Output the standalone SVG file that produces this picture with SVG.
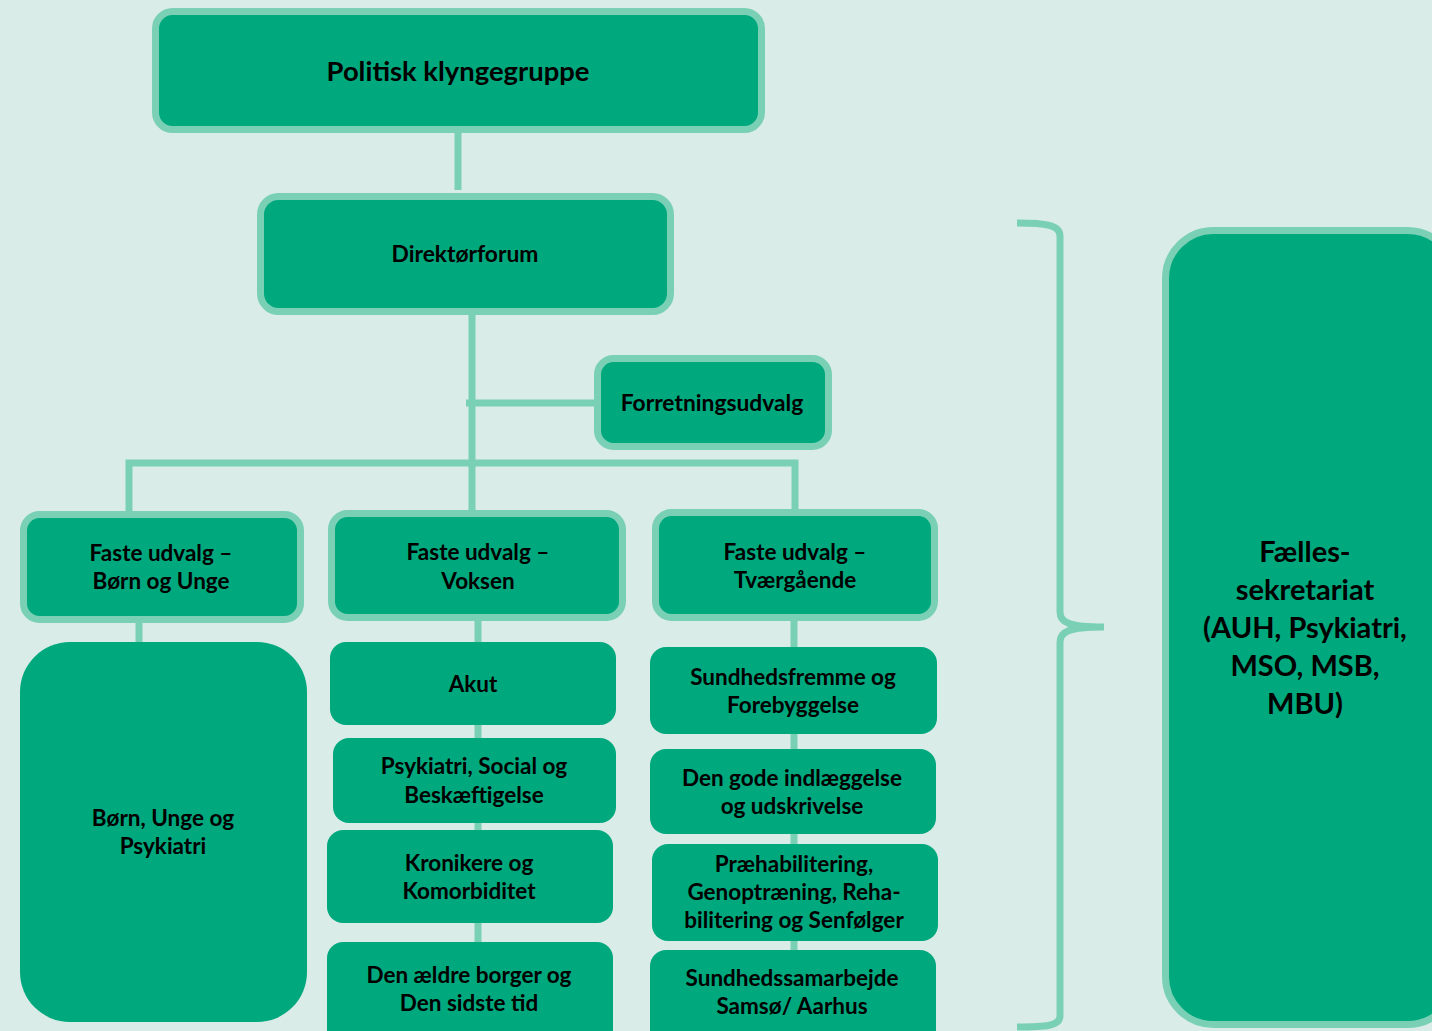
<svg xmlns="http://www.w3.org/2000/svg" width="1432" height="1031" viewBox="0 0 1432 1031">
<style>
.bg{fill:#daece7}
.bx{fill:#00a87e;stroke:#7ad0b5;stroke-width:7}
.pl{fill:#00a87e}
.cn{stroke:#7ad0b5;stroke-width:7;fill:none}
text{font-family:Lato,"Liberation Sans",sans-serif;font-weight:bold;fill:#000;text-anchor:middle;font-size:22.5px}
.t1{font-size:27.4px}
.t2{font-size:22.8px}
.t3{font-size:29px}
</style>
<rect class="bg" x="0" y="0" width="1432" height="1031"/>
<g id="connectors">
<line class="cn" x1="458" y1="130" x2="458" y2="190"/>
<line class="cn" x1="472" y1="312" x2="472" y2="515"/>
<line class="cn" x1="466" y1="403" x2="598" y2="403"/>
<polyline class="cn" points="129,515 129,463 795,463 795,514"/>
<line class="cn" x1="139" y1="619" x2="139" y2="645"/>
<line class="cn" x1="478" y1="618" x2="478" y2="945"/>
<line class="cn" x1="794" y1="617" x2="794" y2="952"/>
<path class="cn" d="M1017,223 C1046,223 1060,225 1060,236 L1060,612 C1060,622 1068,627 1104,627 C1068,627 1060,632 1060,642 L1060,1016 C1060,1026 1046,1027 1017,1027"/>
</g>
<g id="politisk">
<rect class="bx" x="155.5" y="11.5" width="606" height="118" rx="17"/>
<text class="t1" x="458" y="81">Politisk klyngegruppe</text>
</g>
<g id="direktorforum">
<rect class="bx" x="260.5" y="196.5" width="410" height="115" rx="18"/>
<text class="t2" x="465" y="262">Direktørforum</text>
</g>
<g id="forretningsudvalg">
<rect class="bx" x="597.5" y="358.5" width="231" height="88" rx="16"/>
<text class="t2" x="712" y="411">Forretningsudvalg</text>
</g>
<g id="faste-born">
<rect class="bx" x="23.5" y="514.5" width="277" height="105" rx="16"/>
<text x="161" y="561">Faste udvalg –</text>
<text x="161" y="589">Børn og Unge</text>
</g>
<g id="faste-voksen">
<rect class="bx" x="331.5" y="513.5" width="291" height="104" rx="16"/>
<text x="478" y="560">Faste udvalg –</text>
<text x="478" y="589">Voksen</text>
</g>
<g id="faste-tvaer">
<rect class="bx" x="655.5" y="512.5" width="279" height="105" rx="16"/>
<text x="795" y="560">Faste udvalg –</text>
<text x="795" y="588">Tværgående</text>
</g>
<g id="born-unge-psykiatri">
<rect class="pl" x="20" y="642" width="287" height="380" rx="50"/>
<text x="163" y="826">Børn, Unge og</text>
<text x="163" y="854">Psykiatri</text>
</g>
<g id="akut">
<rect class="pl" x="330" y="642" width="286" height="83" rx="16"/>
<text x="473" y="692">Akut</text>
</g>
<g id="psykiatri-social">
<rect class="pl" x="333" y="738" width="283" height="85" rx="16"/>
<text x="474" y="774">Psykiatri, Social og</text>
<text x="474" y="803">Beskæftigelse</text>
</g>
<g id="kronikere">
<rect class="pl" x="327" y="830" width="286" height="93" rx="16"/>
<text x="469" y="871">Kronikere og</text>
<text x="469" y="899">Komorbiditet</text>
</g>
<g id="aeldre">
<rect class="pl" x="327" y="942" width="286" height="110" rx="16"/>
<text x="469" y="983">Den ældre borger og</text>
<text x="469" y="1011">Den sidste tid</text>
</g>
<g id="sundhedsfremme">
<rect class="pl" x="650" y="647" width="287" height="87" rx="16"/>
<text x="793" y="685">Sundhedsfremme og</text>
<text x="793" y="713">Forebyggelse</text>
</g>
<g id="indlaeggelse">
<rect class="pl" x="650" y="749" width="286" height="85" rx="16"/>
<text x="792" y="786">Den gode indlæggelse</text>
<text x="792" y="814">og udskrivelse</text>
</g>
<g id="praehabilitering">
<rect class="pl" x="652" y="844" width="286" height="97" rx="16"/>
<text x="794" y="872">Præhabilitering,</text>
<text x="794" y="900">Genoptræning, Reha-</text>
<text x="794" y="928">bilitering og Senfølger</text>
</g>
<g id="samsoe">
<rect class="pl" x="650" y="950" width="286" height="100" rx="16"/>
<text x="792" y="986">Sundhedssamarbejde</text>
<text x="792" y="1014">Samsø/ Aarhus</text>
</g>
<g id="faellessekretariat">
<rect class="bx" x="1165.5" y="230.5" width="290" height="794" rx="48"/>
<text class="t3" x="1305" y="562">Fælles-</text>
<text class="t3" x="1305" y="600">sekretariat</text>
<text class="t3" x="1305" y="638">(AUH, Psykiatri,</text>
<text class="t3" x="1305" y="676">MSO, MSB,</text>
<text class="t3" x="1305" y="714">MBU)</text>
</g>
</svg>
